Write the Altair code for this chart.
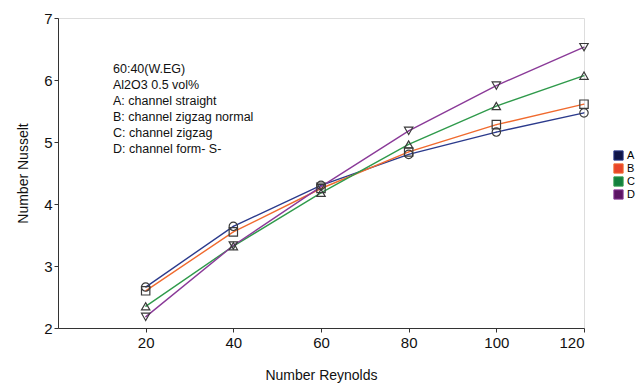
import altair as alt
import pandas as pd

reynolds = [20, 40, 60, 80, 100, 120]
nu_A = [2.66, 3.64, 4.30, 4.80, 5.16, 5.47]
nu_B = [2.60, 3.55, 4.25, 4.84, 5.28, 5.61]
nu_C = [2.35, 3.32, 4.18, 4.96, 5.58, 6.07]
nu_D = [2.18, 3.33, 4.28, 5.18, 5.91, 6.53]
series = ["A", "B", "C", "D"]
line_colors = ["#2b3a8c", "#f06a2e", "#2f9a4b", "#8a3a98"]
swatch_colors = ["#101548", "#e8452c", "#13803e", "#5c1464"]
shapes = ["circle", "square", "triangle-up", "triangle-down"]
y_ticks = [2 + 0.25 * i for i in range(21)]
x_ticks = [20, 40, 60, 80, 100, 120]
note_lines = [
    "60:40(W.EG)",
    "Al2O3 0.5 vol%",
    "A: channel straight",
    "B: channel zigzag normal",
    "C: channel zigzag",
    "D: channel form- S-",
]

rows = []
for name, vals in zip(series, [nu_A, nu_B, nu_C, nu_D]):
    for re_, nu in zip(reynolds, vals):
        rows.append({"Re": re_, "Nu": nu, "Series": name})
df = pd.DataFrame(rows)

FONT = "Liberation Sans"

x_enc = alt.X(
    "Re:Q",
    scale=alt.Scale(domain=[0, 120], nice=False, zero=False),
    axis=alt.Axis(
        title="Number Reynolds",
        values=x_ticks,
        grid=False,
        tickSize=4,
        labelPadding=3,
        labelFontSize=15,
        titleFontSize=14,
        titleFontWeight="normal",
        titlePadding=18,
        domainColor="#333",
        tickColor="#333",
    ),
)
y_enc = alt.Y(
    "Nu:Q",
    scale=alt.Scale(domain=[2, 7], nice=False, zero=False),
    axis=alt.Axis(
        title="Number Nusselt",
        values=y_ticks,
        format=".0f",
        labelExpr="datum.value % 1 === 0 ? datum.label : ''",
        grid=False,
        tickSize=4,
        labelPadding=2,
        labelFontSize=15,
        titleFontSize=14,
        titleFontWeight="normal",
        titlePadding=13,
        domainColor="#333",
        tickColor="#333",
    ),
)

lines = alt.Chart(df).mark_line(strokeWidth=1.4).encode(
    x=x_enc,
    y=y_enc,
    color=alt.Color("Series:N", scale=alt.Scale(domain=series, range=line_colors), legend=None),
)

legend_layer = alt.Chart(df).mark_point(shape="square", filled=True, size=1).encode(
    x="Re:Q",
    y="Nu:Q",
    fill=alt.Fill(
        "Series:N",
        scale=alt.Scale(domain=series, range=swatch_colors),
        legend=alt.Legend(
            title=None,
            orient="none",
            legendX=555,
            legendY=132,
            symbolType="square",
            symbolSize=85,
            symbolStrokeColor="black",
            symbolStrokeWidth=1,
            symbolOpacity=1,
            labelFontSize=11,
            labelFont=FONT,
            rowPadding=-2,
            padding=0,
            labelOffset=3,
        ),
    ),
)

marker_layers = [
    alt.Chart(df)
    .transform_filter(alt.datum.Series == name)
    .mark_point(shape=shp, filled=False, stroke="#3a3a3a", strokeWidth=1.2, size=70, opacity=1)
    .encode(x="Re:Q", y="Nu:Q")
    for name, shp in zip(series, shapes)
]

note = alt.Chart(pd.DataFrame({"t": ["\n".join(note_lines)]})).mark_text(
    align="left",
    baseline="top",
    fontSize=12.5,
    font=FONT,
    lineBreak="\n",
    lineHeight=16,
    color="#111",
).encode(text="t:N", x=alt.value(55), y=alt.value(45))

chart = (
    alt.layer(legend_layer, lines, *marker_layers, note)
    .properties(
        width=526,
        height=310,
        autosize=alt.AutoSizeParams(type="none"),
        padding={"left": 58, "top": 18, "right": 53, "bottom": 57},
    )
    .configure_view(stroke=None)
    .configure(font=FONT)
    .configure_axis(labelFont=FONT, titleFont=FONT, labelColor="#111", titleColor="#111")
)

chart.save("out.html", embed_options={"renderer": "svg", "actions": False})
